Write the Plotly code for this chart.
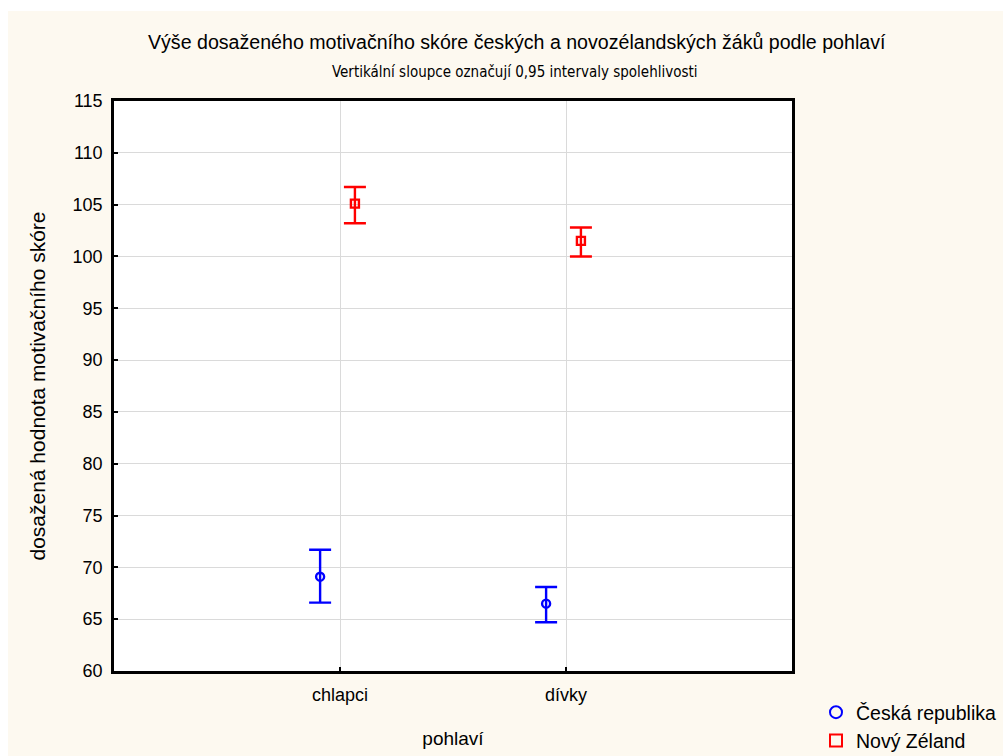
import plotly.graph_objects as go

# Gender groups on the x axis
categories = ["chlapci", "dívky"]
cat_pos = [1, 2]

# Mean motivation score with 0.95 confidence limits
cz_mean = [69.1, 66.5]
cz_low = [66.6, 64.7]
cz_high = [71.7, 68.1]

nz_mean = [105.1, 101.5]
nz_low = [103.2, 100.0]
nz_high = [106.7, 102.8]

y_ticks = list(range(60, 116, 5))

CREAM = "#FDF9F0"
FONT = "Liberation Sans, Arial, sans-serif"

# plot area geometry in pixels
W, H = 1003, 756
L, R, T, B = 114, 792, 101, 671


def px_x(px):
    return (px - L) / (R - L)


def px_y(py):
    return (B - py) / (B - T)


def series(name, x_off, mean, low, high, color, symbol):
    return go.Scatter(
        name=name,
        x=[p + x_off for p in cat_pos],
        y=mean,
        mode="markers",
        marker=dict(symbol=symbol, size=8, color=color,
                    line=dict(color=color, width=2.4)),
        error_y=dict(type="data", symmetric=False,
                     array=[h - m for h, m in zip(high, mean)],
                     arrayminus=[m - l for m, l in zip(mean, low)],
                     color=color, thickness=2.4, width=11),
    )


fig = go.Figure()
fig.add_trace(series("Česká republika", -0.088, cz_mean, cz_low, cz_high,
                     "#0000FF", "circle-open"))
fig.add_trace(series("Nový Zéland", 0.066, nz_mean, nz_low, nz_high,
                     "#FF0000", "square-open"))

axis_common = dict(
    showline=True, linecolor="black", linewidth=2.5, mirror=True,
    ticks="inside", ticklen=4, tickwidth=2, tickcolor="black",
    showgrid=True, gridcolor="#DADADA", gridwidth=1, zeroline=False,
    automargin=False,
    tickfont=dict(family=FONT, size=18, color="black"),
)

fig.update_xaxes(range=[0, 3], tickvals=cat_pos, ticktext=categories,
                 ticklabelstandoff=6,
                 title=dict(text="pohlaví", standoff=28,
                            font=dict(family=FONT, size=19, color="black")),
                 **axis_common)
fig.update_yaxes(range=[60, 115], tickvals=y_ticks, ticklabelstandoff=5,
                 title=dict(text="dosažená hodnota motivačního skóre", standoff=22,
                            font=dict(family=FONT, size=21, color="black")),
                 **axis_common)

# white border strips along the top and left edges of the page
shapes = [
    dict(type="rect", xref="paper", yref="paper", layer="above",
         x0=px_x(0), x1=px_x(8), y0=px_y(H), y1=px_y(0),
         fillcolor="white", line=dict(width=0)),
    dict(type="rect", xref="paper", yref="paper", layer="above",
         x0=px_x(0), x1=px_x(W), y0=px_y(11), y1=px_y(0),
         fillcolor="white", line=dict(width=0)),
]

annotations = [
    dict(text="Výše dosaženého motivačního skóre českých a novozélandských žáků podle pohlaví",
         xref="paper", yref="paper", x=px_x(517), y=px_y(42),
         xanchor="center", yanchor="middle", showarrow=False,
         font=dict(family=FONT, size=19.6, color="black")),
    dict(text="Vertikální sloupce označují 0,95 intervaly spolehlivosti",
         xref="paper", yref="paper", x=px_x(515), y=px_y(72),
         xanchor="center", yanchor="middle", showarrow=False,
         font=dict(family="DejaVu Sans Condensed, Liberation Sans Narrow, sans-serif",
                   size=15, color="black")),
]

fig.update_layout(
    width=W, height=H,
    margin=dict(l=L, r=W - R, t=T, b=H - B, pad=0, autoexpand=False),
    paper_bgcolor=CREAM, plot_bgcolor="white",
    showlegend=True,
    legend=dict(x=px_x(816), y=px_y(693), xanchor="left", yanchor="top",
                bgcolor="rgba(0,0,0,0)", borderwidth=0, tracegroupgap=0,
                itemsizing="constant",
                font=dict(family=FONT, size=19.5, color="black")),
    shapes=shapes, annotations=annotations,
)

fig.write_html("out.html")
